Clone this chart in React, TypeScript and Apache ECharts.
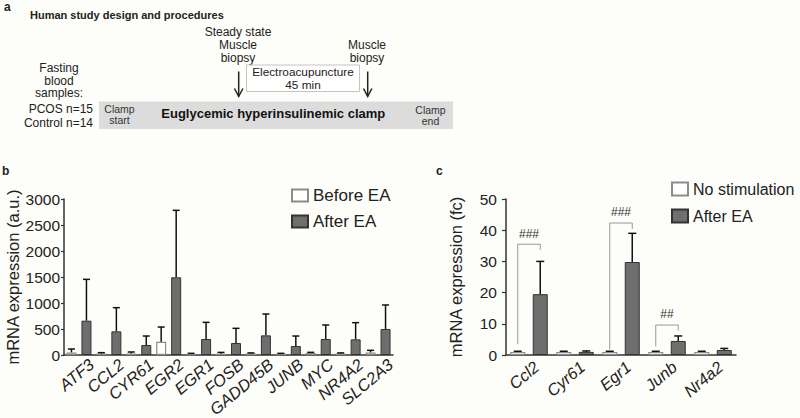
import React, { useEffect, useRef } from 'react';
import * as echarts from 'echarts';

// Panel b data
const genesB = ['ATF3', 'CCL2', 'CYR61', 'EGR2', 'EGR1', 'FOSB', 'GADD45B', 'JUNB', 'MYC', 'NR4A2', 'SLC2A3'];
const beforeB = [50, 30, 30, 255, 18, 25, 30, 25, 38, 30, 50];
const beforeBErr = [115, 45, 58, 538, 32, 50, 40, 32, 51, 40, 90];
const afterB = [660, 455, 192, 1494, 308, 231, 378, 173, 308, 301, 500];
const afterBErr = [1455, 910, 365, 2782, 628, 513, 788, 365, 577, 622, 962];

// Panel c data
const genesC = ['Ccl2', 'Cyr61', 'Egr1', 'Junb', 'Nr4a2'];
const noneC = [1, 1, 1, 1, 1];
const noneCErr = [1.2, 1.2, 1.2, 1.2, 1.2];
const afterC = [19.5, 1.0, 29.8, 4.5, 1.6];
const afterCErr = [30.0, 1.3, 39.0, 6.1, 2.1];

// Significance brackets (panel c): category, left foot, top, right foot, label height
const bracketCat = [0, 2, 3];
const bracketLeft = [3.5, 1.8, 2.7];
const bracketTop = [35.5, 42.3, 9.6];
const bracketRight = [33.7, 40.4, 7.8];
const bracketLabelY = [38.8, 45.9, 13.2];
const bracketLabels = ['###', '###', '##'];

const FONT = "'Liberation Sans', Arial, Helvetica, sans-serif";
const TXT = '#222';

export default function App() {
  const ref = useRef<HTMLDivElement>(null);
  useEffect(() => {
    const chart = echarts.init(ref.current as HTMLDivElement, null, { renderer: 'svg' });

    const errSeries = (xi: number, vals: number[], errs: number[], offset: number, cap: number) => ({
      type: 'custom',
      xAxisIndex: xi,
      yAxisIndex: xi,
      silent: true,
      z: 5,
      data: vals.map((v, i) => [i, v, errs[i]]),
      renderItem: (params: any, api: any) => {
        const i = api.value(0);
        const base = api.coord([i, api.value(1)]);
        const top = api.coord([i, api.value(2)]);
        const x = base[0] + offset;
        return {
          type: 'group',
          children: [
            { type: 'line', shape: { x1: x, y1: base[1], x2: x, y2: top[1] }, style: { stroke: '#111', lineWidth: 1.5 } },
            { type: 'line', shape: { x1: x - cap, y1: top[1], x2: x + cap, y2: top[1] }, style: { stroke: '#111', lineWidth: 1.5 } },
          ],
        };
      },
    });

    // rotated, italic category labels placed at each category via the axis scale
    const labelSeries = (xi: number, names: string[], dx: number, dy: number) => ({
      type: 'custom',
      xAxisIndex: xi,
      yAxisIndex: xi,
      silent: true,
      clip: false,
      z: 5,
      data: names.map((_, i) => [i, 0]),
      renderItem: (params: any, api: any) => {
        const p = api.coord([api.value(0), 0]);
        return {
          type: 'text',
          x: p[0] + dx,
          y: p[1] + dy,
          rotation: (40 * Math.PI) / 180,
          style: {
            text: names[params.dataIndex],
            fontSize: 16.5,
            fontStyle: 'italic',
            fill: TXT,
            align: 'right',
            verticalAlign: 'middle',
            fontFamily: FONT,
          },
        };
      },
    });

    const barStyleBefore = { color: '#ffffff', borderColor: '#8c8c8c', borderWidth: 1.2 };
    const barStyleAfter = { color: '#6e6e6e', borderColor: '#333333', borderWidth: 1 };

    const axisLineStyle = { color: '#333', width: 1.5 };
    const plain = (v: number) => String(v);

    const option: any = {
      animation: false,
      backgroundColor: '#fdfdf9',
      textStyle: { fontFamily: FONT },
      grid: [
        { left: 64, top: 199, width: 329, height: 156 },
        { left: 506, top: 199, width: 230, height: 156 },
      ],
      legend: [
        {
          orient: 'vertical',
          left: 286,
          top: 182,
          itemWidth: 16,
          itemHeight: 12,
          itemGap: 9,
          icon: 'rect',
          selectedMode: false,
          data: ['Before EA', 'After EA'],
          textStyle: { fontSize: 17, color: TXT, fontFamily: FONT },
        },
        {
          orient: 'vertical',
          left: 666,
          top: 176,
          itemWidth: 16,
          itemHeight: 13,
          itemGap: 11,
          icon: 'rect',
          selectedMode: false,
          data: ['No stimulation', 'After EA '],
          textStyle: { fontSize: 16, color: TXT, fontFamily: FONT },
        },
      ],
      xAxis: [
        {
          gridIndex: 0,
          type: 'category',
          data: genesB,
          axisLine: { lineStyle: axisLineStyle },
          axisTick: { show: false },
          axisLabel: { show: false },
        },
        {
          gridIndex: 1,
          type: 'category',
          data: genesC,
          axisLine: { lineStyle: axisLineStyle },
          axisTick: { show: false },
          axisLabel: { show: false },
        },
      ],
      yAxis: [
        {
          gridIndex: 0,
          type: 'value',
          min: 0,
          max: 3000,
          interval: 500,
          name: 'mRNA expression (a.u.)',
          nameLocation: 'middle',
          nameGap: 33,
          nameTextStyle: { fontSize: 16.5, color: TXT, fontFamily: FONT },
          axisLine: { show: true, lineStyle: axisLineStyle },
          axisTick: { show: true, length: 3, lineStyle: { color: '#333', width: 1.2 } },
          axisLabel: { fontSize: 15.5, color: TXT, margin: 4, fontFamily: FONT, formatter: plain },
          splitLine: { show: false },
        },
        {
          gridIndex: 1,
          type: 'value',
          min: 0,
          max: 50,
          interval: 10,
          name: 'mRNA expression (fc)',
          nameLocation: 'middle',
          nameGap: 42,
          nameTextStyle: { fontSize: 16.5, color: TXT, fontFamily: FONT },
          axisLine: { show: true, lineStyle: axisLineStyle },
          axisTick: { show: true, length: 4, lineStyle: { color: '#333', width: 1.2 } },
          axisLabel: { fontSize: 15.5, color: TXT, margin: 9, fontFamily: FONT, formatter: plain },
          splitLine: { show: false },
        },
      ],
      series: [
        { name: 'Before EA', type: 'bar', xAxisIndex: 0, yAxisIndex: 0, data: beforeB, barWidth: 10, barGap: '50%', itemStyle: barStyleBefore, silent: true },
        { name: 'After EA', type: 'bar', xAxisIndex: 0, yAxisIndex: 0, data: afterB, barWidth: 10, barGap: '50%', itemStyle: barStyleAfter, silent: true },
        errSeries(0, beforeB, beforeBErr, -7.5, 3.5),
        errSeries(0, afterB, afterBErr, 7.5, 3.5),
        labelSeries(0, genesB, 12.5, 7),
        { name: 'No stimulation', type: 'bar', xAxisIndex: 1, yAxisIndex: 1, data: noneC, barWidth: 15, barGap: '50%', itemStyle: barStyleBefore, silent: true },
        { name: 'After EA ', type: 'bar', xAxisIndex: 1, yAxisIndex: 1, data: afterC, barWidth: 15, barGap: '50%', itemStyle: barStyleAfter, silent: true },
        errSeries(1, noneC, noneCErr, -11.25, 4),
        errSeries(1, afterC, afterCErr, 11.25, 4),
        labelSeries(1, genesC, 7.5, 9.5),
        {
          type: 'custom',
          xAxisIndex: 1,
          yAxisIndex: 1,
          silent: true,
          z: 6,
          data: bracketCat.map((c, i) => [c, bracketLeft[i], bracketTop[i], bracketRight[i], bracketLabelY[i]]),
          renderItem: (params: any, api: any) => {
            const c = api.value(0);
            const pL = api.coord([c, api.value(1)]);
            const pT = api.coord([c, api.value(2)]);
            const pR = api.coord([c, api.value(3)]);
            const pLab = api.coord([c, api.value(4)]);
            const xl = pL[0] - 11.25;
            const xr = pL[0] + 11.25;
            return {
              type: 'group',
              children: [
                {
                  type: 'polyline',
                  shape: { points: [[xl, pL[1]], [xl, pT[1]], [xr, pT[1]], [xr, pR[1]]] },
                  style: { stroke: '#999', lineWidth: 1, fill: 'none' },
                },
                {
                  type: 'text',
                  x: (xl + xr) / 2,
                  y: pLab[1],
                  style: { text: bracketLabels[params.dataIndex], fontSize: 12, fill: '#333', align: 'center', verticalAlign: 'middle', fontFamily: FONT },
                },
              ],
            };
          },
        },
      ],
      graphic: [
        { type: 'text', x: 4, y: 7, style: { text: 'a', fontSize: 12, fontWeight: 'bold', fill: TXT, verticalAlign: 'middle', fontFamily: FONT } },
        { type: 'text', x: 30, y: 15, style: { text: 'Human study design and procedures', fontSize: 11, fontWeight: 'bold', fill: TXT, verticalAlign: 'middle', fontFamily: FONT } },
        { type: 'text', x: 238, y: 44.5, style: { text: 'Steady state\nMuscle\nbiopsy', fontSize: 12, lineHeight: 13, fill: TXT, align: 'center', verticalAlign: 'middle', fontFamily: FONT } },
        { type: 'text', x: 367, y: 51, style: { text: 'Muscle\nbiopsy', fontSize: 12, lineHeight: 13, fill: TXT, align: 'center', verticalAlign: 'middle', fontFamily: FONT } },
        { type: 'rect', shape: { x: 246.5, y: 65, width: 113, height: 26.5 }, style: { fill: '#ffffff', stroke: '#c4c4c4', lineWidth: 1 } },
        { type: 'text', x: 303, y: 78.5, style: { text: 'Electroacupuncture\n45 min', fontSize: 11.8, lineHeight: 12.5, fill: TXT, align: 'center', verticalAlign: 'middle', fontFamily: FONT } },
        { type: 'line', shape: { x1: 238.7, y1: 71.5, x2: 238.7, y2: 96.5 }, style: { stroke: '#222', lineWidth: 1.5 } },
        { type: 'polyline', shape: { points: [[234.5, 88.5], [238.7, 96.5], [242.9, 88.5]] }, style: { stroke: '#222', lineWidth: 1.5, fill: 'none' } },
        { type: 'line', shape: { x1: 367.7, y1: 71.5, x2: 367.7, y2: 96.5 }, style: { stroke: '#222', lineWidth: 1.5 } },
        { type: 'polyline', shape: { points: [[363.5, 88.5], [367.7, 96.5], [371.9, 88.5]] }, style: { stroke: '#222', lineWidth: 1.5, fill: 'none' } },
        { type: 'text', x: 59, y: 80.5, style: { text: 'Fasting\nblood\nsamples:', fontSize: 12, lineHeight: 12.5, fill: TXT, align: 'center', verticalAlign: 'middle', fontFamily: FONT } },
        { type: 'text', x: 93, y: 108.5, style: { text: 'PCOS n=15', fontSize: 12, fill: TXT, align: 'right', verticalAlign: 'middle', fontFamily: FONT } },
        { type: 'text', x: 93, y: 122.5, style: { text: 'Control n=14', fontSize: 12, fill: TXT, align: 'right', verticalAlign: 'middle', fontFamily: FONT } },
        { type: 'rect', shape: { x: 99, y: 101.5, width: 354, height: 27.5 }, style: { fill: '#dcdcdc' } },
        { type: 'text', x: 119.5, y: 109.2, style: { text: 'Clamp', fontSize: 10.5, fill: '#333', align: 'center', verticalAlign: 'middle', fontFamily: FONT } },
        { type: 'text', x: 119.5, y: 119.8, style: { text: 'start', fontSize: 10.5, fill: '#333', align: 'center', verticalAlign: 'middle', fontFamily: FONT } },
        { type: 'text', x: 430.5, y: 110.2, style: { text: 'Clamp', fontSize: 10.5, fill: '#333', align: 'center', verticalAlign: 'middle', fontFamily: FONT } },
        { type: 'text', x: 430.5, y: 120.8, style: { text: 'end', fontSize: 10.5, fill: '#333', align: 'center', verticalAlign: 'middle', fontFamily: FONT } },
        { type: 'text', x: 273.3, y: 113.5, style: { text: 'Euglycemic hyperinsulinemic clamp', fontSize: 13, fontWeight: 'bold', fill: '#111', align: 'center', verticalAlign: 'middle', fontFamily: FONT } },
        { type: 'text', x: 2, y: 170.5, style: { text: 'b', fontSize: 12, fontWeight: 'bold', fill: TXT, verticalAlign: 'middle', fontFamily: FONT } },
        { type: 'text', x: 436, y: 170.5, style: { text: 'c', fontSize: 12, fontWeight: 'bold', fill: TXT, verticalAlign: 'middle', fontFamily: FONT } },
      ],
    };

    chart.setOption(option);
    return () => {
      chart.dispose();
    };
  }, []);

  return <div ref={ref} style={{ position: 'absolute', left: 0, top: 0, width: 800, height: 418 }} />;
}
